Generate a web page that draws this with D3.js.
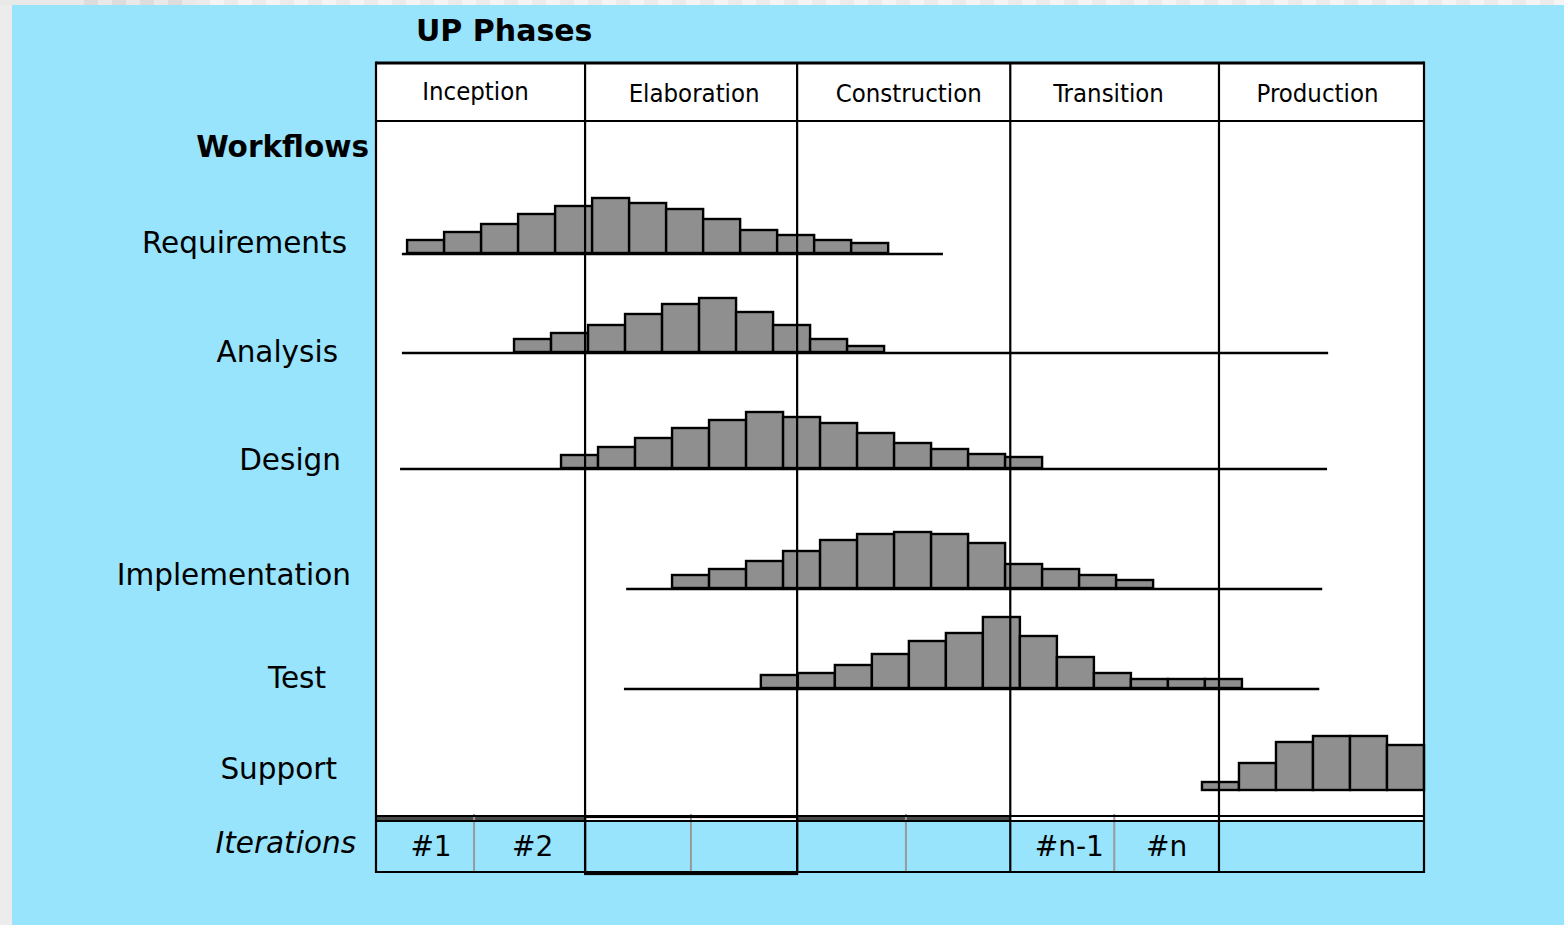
<!DOCTYPE html>
<html>
<head>
<meta charset="utf-8">
<script src="https://cdn.jsdelivr.net/npm/d3@7"></script>
<style>
  html, body { margin: 0; padding: 0; background: #ececec; }
  svg { display: block; }
  text { font-family: "DejaVu Sans", sans-serif; fill: #000; }
</style>
</head>
<body>
<svg id="chart" width="1564" height="925"></svg>
<script>
// Phases of the Unified Process (top header).
const phases = ["Inception", "Elaboration", "Construction", "Transition", "Production"];
// Where each phase ends, in iteration steps along the timeline.
const phaseEnds = [5.65, 11.38, 17.14, 22.78, 28.32];

// Workflows (row labels).
const workflows = ["Requirements", "Analysis", "Design", "Implementation", "Test", "Support"];
// Step at which each workflow starts.
const workflowStarts = [0.84, 3.73, 5.0, 8.0, 10.4, 22.32];

// Effort per step for each workflow.
const requirements = [13, 21, 29, 39, 47, 55, 50, 44, 34, 23, 18, 13, 10];
const analysis = [13, 19, 27, 38, 48, 54, 40, 27, 13, 6];
const design = [13, 21, 30, 40, 48, 56, 51, 45, 35, 25, 19, 14, 11];
const implementation = [13, 19, 27, 37, 48, 54, 56, 54, 45, 24, 19, 13, 8];
const test = [13, 15, 23, 34, 47, 55, 71, 52, 31, 15, 9, 9, 9];
const support = [8, 27, 48, 54, 54, 45];
const efforts = [requirements, analysis, design, implementation, test, support];

// Iterations row: split of each phase and its labels.
const iterationSplits = [2.65, 8.51, 14.32, 19.95];
const iterationLabels = ["#1", "#2", "", "", "", "", "#n-1", "#n", ""];

// Layout (not data): table box and row placement.
const table = { left: 376, right: 1424, top: 63, head: 121, body: 816, iterTop: 821, bottom: 872 };
const rowBaseline = d3.scaleOrdinal().domain(workflows).range([253, 352, 468, 588, 688, 790]);
const labelRight = d3.scaleOrdinal().domain(workflows).range([347, 338, 341, 351, 326, 337]);
const labelMid = d3.scaleOrdinal().domain(workflows).range([243, 352, 460, 575, 678, 769]);
// Small hand offsets of the header captions, as in the original drawing.
const headerDx = [-5, 3, 5, -6, -4];
const headerY = [91, 93, 93, 93, 93];
const iterDx = [6, 3, 0, 0, 0, 0, 7, 0, 0];
// Extent of the thin time line under each histogram, in steps.
const lineExtent = [[0.70, 15.32], [0.70, 25.73], [0.65, 25.70], [6.76, 25.57], [6.70, 25.49], null];

const svg = d3.select("#chart");

// Scales: timeline in steps -> pixels, effort -> bar height.
const x = d3.scaleLinear().domain([0, phaseEnds[phaseEnds.length - 1]]).range([table.left, table.right]);
const h = d3.scaleLinear().domain([0, 100]).range([0, 100]);

// Light checker strip on the top and grey strip on the left (page backdrop).
svg.append("g")
  .selectAll("rect")
  .data(d3.range(0, 1564, 14))
  .enter()
  .append("rect")
  .attr("x", d => d)
  .attr("y", 0)
  .attr("width", 14)
  .attr("height", 5)
  .attr("fill", (d, i) => d < 60 ? "#e9e9e9" : d < 185 ? (i % 2 ? "#e9e9e9" : "#dcdcdc") : (i % 2 ? "#f4f4f4" : "#ebebeb"));

// Cyan background.
svg.append("rect")
  .attr("x", 12).attr("y", 5)
  .attr("width", 1552).attr("height", 920)
  .attr("fill", "#98e4fd");

// White table body.
svg.append("rect")
  .attr("x", table.left).attr("y", table.top)
  .attr("width", table.right - table.left).attr("height", table.body - table.top)
  .attr("fill", "#fff");

// Phase boundaries in steps, with start 0.
const phaseEdges = [0].concat(phaseEnds);

// Header labels.
svg.append("g")
  .selectAll("text")
  .data(phases)
  .enter()
  .append("text")
  .attr("x", (d, i) => (x(phaseEdges[i]) + x(phaseEdges[i + 1])) / 2 + headerDx[i])
  .attr("y", (d, i) => headerY[i])
  .attr("text-anchor", "middle")
  .attr("dominant-baseline", "central")
  .style("font-family", "'DejaVu Sans Condensed', 'DejaVu Sans', sans-serif")
  .style("font-stretch", "condensed")
  .style("font-size", "25.5px")
  .text(d => d);

// Histograms, one group per workflow.
const rows = svg.append("g")
  .selectAll("g")
  .data(workflows)
  .enter()
  .append("g");

rows.filter((d, i) => lineExtent[i] !== null)
  .append("line")
  .attr("x1", d => x(lineExtent[workflows.indexOf(d)][0]))
  .attr("x2", d => x(lineExtent[workflows.indexOf(d)][1]))
  .attr("y1", d => rowBaseline(d) + 1)
  .attr("y2", d => rowBaseline(d) + 1)
  .attr("stroke", "#000")
  .attr("stroke-width", 2.5);

rows.selectAll("rect")
  .data((d, i) => efforts[i].map((v, j) => ({ wf: d, start: workflowStarts[i] + j, v: v })))
  .enter()
  .append("rect")
  .attr("x", d => x(d.start))
  .attr("y", d => rowBaseline(d.wf) - h(d.v))
  .attr("width", d => x(d.start + 1) - x(d.start))
  .attr("height", d => h(d.v))
  .attr("fill", "#8f8f8f")
  .attr("stroke", "#000")
  .attr("stroke-width", 2.4);

// Row labels.
svg.append("g")
  .selectAll("text")
  .data(workflows)
  .enter()
  .append("text")
  .attr("x", d => labelRight(d))
  .attr("y", d => labelMid(d))
  .attr("text-anchor", "end")
  .attr("dominant-baseline", "central")
  .style("font-size", "29.5px")
  .text(d => d);

// Titles.
svg.append("text")
  .attr("x", 416).attr("y", 30)
  .attr("dominant-baseline", "central")
  .style("font-size", "30px").style("font-weight", "bold")
  .text("UP Phases");

svg.append("text")
  .attr("x", 369).attr("y", 147)
  .attr("text-anchor", "end")
  .attr("dominant-baseline", "central")
  .style("font-size", "29.5px").style("font-weight", "bold")
  .text("Workflows");

svg.append("text")
  .attr("x", 356).attr("y", 843)
  .attr("text-anchor", "end")
  .attr("dominant-baseline", "central")
  .style("font-size", "29.5px").style("font-style", "italic")
  .text("Iterations");

// Iterations row: cells between phase edges and splits.
const iterEdges = phaseEdges.concat(iterationSplits).sort((a, b) => a - b);
const cells = iterationLabels.map((label, i) => ({ a: iterEdges[i], b: iterEdges[i + 1], label: label, dx: iterDx[i] }));

// Gap strip between body and iteration row (dark under Inception and Construction).
svg.append("g")
  .selectAll("rect")
  .data(phases)
  .enter()
  .append("rect")
  .attr("x", (d, i) => x(phaseEdges[i]))
  .attr("y", table.body)
  .attr("width", (d, i) => x(phaseEdges[i + 1]) - x(phaseEdges[i]))
  .attr("height", table.iterTop - table.body)
  .attr("fill", (d, i) => (i === 0 || i === 2) ? "#4a4a4a" : "#fff");

svg.append("g")
  .selectAll("text")
  .data(cells)
  .enter()
  .append("text")
  .attr("x", d => (x(d.a) + x(d.b)) / 2 + d.dx)
  .attr("y", 846)
  .attr("text-anchor", "middle")
  .attr("dominant-baseline", "central")
  .style("font-size", "28px")
  .text(d => d.label);

// Grey iteration dividers.
svg.append("g")
  .selectAll("line")
  .data(iterationSplits)
  .enter()
  .append("line")
  .attr("x1", d => x(d)).attr("x2", d => x(d))
  .attr("y1", table.body - 2).attr("y2", table.bottom)
  .attr("stroke", "#999")
  .attr("stroke-width", 2);

// Table lines.
const grid = svg.append("g").attr("stroke", "#000").attr("fill", "none");

// Phase dividers through header, body and iterations.
grid.selectAll("line.phase")
  .data(phaseEnds.slice(0, -1))
  .enter()
  .append("line")
  .attr("class", "phase")
  .attr("x1", d => x(d)).attr("x2", d => x(d))
  .attr("y1", table.top).attr("y2", table.bottom)
  .attr("stroke-width", 2.2);

// Horizontal rules.
grid.selectAll("line.rule")
  .data([[table.top, 3.2], [table.head, 2], [table.body, 2.2], [table.iterTop, 2], [table.bottom, 2.2]])
  .enter()
  .append("line")
  .attr("class", "rule")
  .attr("x1", table.left).attr("x2", table.right)
  .attr("y1", d => d[0]).attr("y2", d => d[0])
  .attr("stroke-width", d => d[1]);

// Outer sides.
grid.selectAll("line.side")
  .data([table.left, table.right])
  .enter()
  .append("line")
  .attr("class", "side")
  .attr("x1", d => d).attr("x2", d => d)
  .attr("y1", table.top - 1.5).attr("y2", table.bottom + 1)
  .attr("stroke-width", 2.2);

// Elaboration iterations box drawn slightly lower.
grid.append("rect")
  .attr("x", x(phaseEdges[1])).attr("y", table.body + 1)
  .attr("width", x(phaseEdges[2]) - x(phaseEdges[1]))
  .attr("height", table.bottom + 2 - table.body - 1)
  .attr("stroke-width", 2.2);
</script>
</body>
</html>
